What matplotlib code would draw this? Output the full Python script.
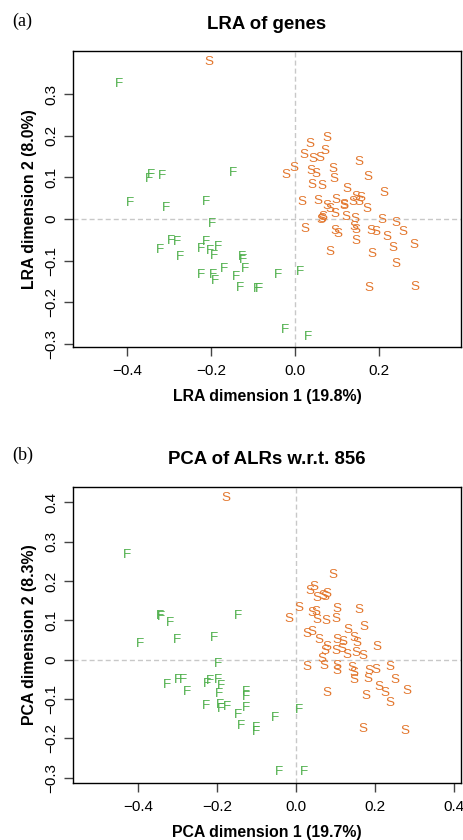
import matplotlib
matplotlib.use("Agg")
import matplotlib.pyplot as plt

plt.rcParams['font.family'] = ['Liberation Sans', 'DejaVu Sans']

# ---------------- data ----------------
# Panel (a): LRA of genes
lra_F_x = [-0.419, -0.344, -0.348, -0.317, -0.148, -0.394, -0.308, -0.213, -0.198,
           -0.295, -0.282, -0.322, -0.275, -0.211, -0.225, -0.202, -0.184, -0.194,
           -0.126, -0.124, -0.120, -0.169, -0.225, -0.195, -0.191, -0.140, -0.130,
           -0.091, -0.087, -0.040, 0.012, -0.024, 0.031]
lra_F_y = [0.324, 0.106, 0.096, 0.103, 0.110, 0.039, 0.026, 0.041, -0.012,
           -0.052, -0.054, -0.074, -0.091, -0.054, -0.072, -0.076, -0.066, -0.089,
           -0.090, -0.098, -0.119, -0.119, -0.134, -0.134, -0.148, -0.139, -0.165,
           -0.169, -0.169, -0.134, -0.127, -0.266, -0.282]
lra_S_x = [-0.204, 0.075, 0.035, 0.072, 0.021, 0.043, 0.059, 0.153, -0.003, -0.022,
           0.037, 0.049, 0.090, 0.093, 0.173, 0.040, 0.063, 0.124, 0.211, 0.017,
           0.054, 0.098, 0.144, 0.156, 0.075, 0.116, 0.137, 0.152, 0.083, 0.171,
           0.096, 0.064, 0.067, 0.120, 0.142, 0.206, 0.239, 0.024, 0.094, 0.101,
           0.140, 0.145, 0.180, 0.192, 0.257, 0.219, 0.144, 0.232, 0.284, 0.082,
           0.183, 0.239, 0.176, 0.286, 0.117, 0.062]
lra_S_y = [0.376, 0.194, 0.179, 0.164, 0.154, 0.144, 0.146, 0.137, 0.122, 0.106,
           0.114, 0.108, 0.121, 0.095, 0.100, 0.082, 0.080, 0.071, 0.063, 0.042,
           0.043, 0.046, 0.052, 0.051, 0.031, 0.034, 0.041, 0.041, 0.023, 0.024,
           0.013, 0.001, 0.004, 0.006, -0.001, -0.002, -0.010, -0.024, -0.029, -0.035,
           -0.018, -0.026, -0.029, -0.030, -0.031, -0.043, -0.053, -0.069, -0.063, -0.080,
           -0.084, -0.108, -0.166, -0.163, 0.032, -0.002]

# Panel (b): PCA of ALRs w.r.t. 856
pca_F_x = [-0.430, -0.343, -0.345, -0.321, -0.146, -0.395, -0.301, -0.207, -0.199,
           -0.327, -0.299, -0.288, -0.277, -0.226, -0.217, -0.199, -0.190, -0.195,
           -0.126, -0.126, -0.228, -0.194, -0.191, -0.176, -0.127, -0.146, -0.140,
           -0.101, -0.102, -0.052, 0.008, -0.042, 0.020]
pca_F_y = [0.266, 0.108, 0.110, 0.093, 0.111, 0.040, 0.049, 0.055, -0.011,
           -0.064, -0.052, -0.053, -0.082, -0.063, -0.055, -0.053, -0.066, -0.087,
           -0.082, -0.094, -0.119, -0.116, -0.126, -0.121, -0.122, -0.141, -0.169,
           -0.173, -0.185, -0.148, -0.128, -0.286, -0.286]
pca_S_x = [-0.178, 0.093, 0.046, 0.036, 0.054, 0.068, 0.079, 0.074, 0.007, -0.018,
           0.041, 0.052, 0.054, 0.075, 0.103, 0.101, 0.159, 0.173, 0.133, 0.029,
           0.041, 0.058, 0.103, 0.120, 0.147, 0.156, 0.206, 0.078, 0.102, 0.117,
           0.074, 0.129, 0.152, 0.169, 0.066, 0.027, 0.071, 0.103, 0.105, 0.141,
           0.147, 0.146, 0.186, 0.202, 0.183, 0.239, 0.252, 0.210, 0.226, 0.239,
           0.281, 0.078, 0.178, 0.170, 0.277]
pca_S_y = [0.410, 0.216, 0.186, 0.174, 0.157, 0.162, 0.167, 0.159, 0.131, 0.103,
           0.118, 0.122, 0.101, 0.099, 0.129, 0.103, 0.126, 0.082, 0.075, 0.065,
           0.070, 0.050, 0.050, 0.046, 0.054, 0.042, 0.031, 0.033, 0.023, 0.026,
           0.022, 0.012, 0.016, 0.009, 0.001, -0.018, -0.016, -0.016, -0.029, -0.022,
           -0.035, -0.052, -0.028, -0.026, -0.050, -0.018, -0.052, -0.069, -0.085, -0.109,
           -0.080, -0.085, -0.092, -0.176, -0.181]

lra_xticks = [-0.4, -0.2, 0.0, 0.2]
lra_xticklabels = ['\u22120.4', '\u22120.2', '0.0', '0.2']
lra_yticks = [-0.3, -0.2, -0.1, 0.0, 0.1, 0.2, 0.3]
lra_yticklabels = ['\u22120.3', '\u22120.2', '\u22120.1', '0', '0.1', '0.2', '0.3']
pca_xticks = [-0.4, -0.2, 0.0, 0.2, 0.4]
pca_xticklabels = ['\u22120.4', '\u22120.2', '0.0', '0.2', '0.4']
pca_yticks = [-0.3, -0.2, -0.1, 0.0, 0.1, 0.2, 0.3, 0.4]
pca_yticklabels = ['\u22120.3', '\u22120.2', '\u22120.1', '0', '0.1', '0.2', '0.3', '0.4']

GREEN = '#4DAF4A'
ORANGE = '#E3772E'

W, H = 463, 840
fig = plt.figure(figsize=(W / 100, H / 100), dpi=100)


def px_axes(left, top, right, bottom):
    return fig.add_axes([left / W, 1 - bottom / H, (right - left) / W, (bottom - top) / H])


def draw_panel(ax, Fx, Fy, Sx, Sy, xlim, ylim, xt, xtl, yt, ytl, title, xlabel, ylabel):
    ax.set_xlim(*xlim)
    ax.set_ylim(*ylim)
    ax.axvline(0, color='#c8c8c8', lw=1.0, dashes=(3.6, 2.2), zorder=1)
    ax.axhline(0, color='#c8c8c8', lw=1.0, dashes=(3.6, 2.2), zorder=1)
    for x, y in zip(Fx, Fy):
        ax.text(x, y, 'F', color=GREEN, fontsize=9.7, ha='center', va='center', zorder=3)
    for x, y in zip(Sx, Sy):
        ax.text(x, y, 'S', color=ORANGE, fontsize=9.7, ha='center', va='center', zorder=3)
    ax.set_xticks(xt)
    ax.set_xticklabels(xtl)
    ax.set_yticks(yt)
    ax.set_yticklabels(ytl, rotation=90, va='center')
    ax.tick_params(axis='both', direction='out', length=6.5, width=1.0, color='#444444',
                   labelsize=11)
    ax.tick_params(axis='x', pad=6)
    ax.tick_params(axis='y', pad=4)
    for sp in ax.spines.values():
        sp.set_linewidth(1.0)
        sp.set_color('black')
    ax.set_title(title, fontsize=13.4, fontweight='bold', pad=16)
    ax.set_xlabel(xlabel, fontsize=11.4, fontweight='bold', labelpad=8)
    ax.set_ylabel(ylabel, fontsize=11.4, fontweight='bold', labelpad=5)


ax1 = px_axes(73, 51, 461, 347)
draw_panel(ax1, lra_F_x, lra_F_y, lra_S_x, lra_S_y,
           (-0.5286, 0.395), (-0.307, 0.403),
           lra_xticks, lra_xticklabels, lra_yticks, lra_yticklabels,
           'LRA of genes', 'LRA dimension 1 (19.8%)', 'LRA dimension 2 (8.0%)')

ax2 = px_axes(73, 486.7, 461, 782.7)
draw_panel(ax2, pca_F_x, pca_F_y, pca_S_x, pca_S_y,
           (-0.566, 0.419), (-0.313, 0.44),
           pca_xticks, pca_xticklabels, pca_yticks, pca_yticklabels,
           'PCA of ALRs w.r.t. 856', 'PCA dimension 1 (19.7%)', 'PCA dimension 2 (8.3%)')

fig.text(12 / W, 1 - 21.7 / H, '(a)', family='Liberation Serif', fontsize=13,
         ha='left', va='center')
fig.text(12 / W, 1 - 455 / H, '(b)', family='Liberation Serif', fontsize=13,
         ha='left', va='center')

fig.savefig('out.png', dpi=100)
